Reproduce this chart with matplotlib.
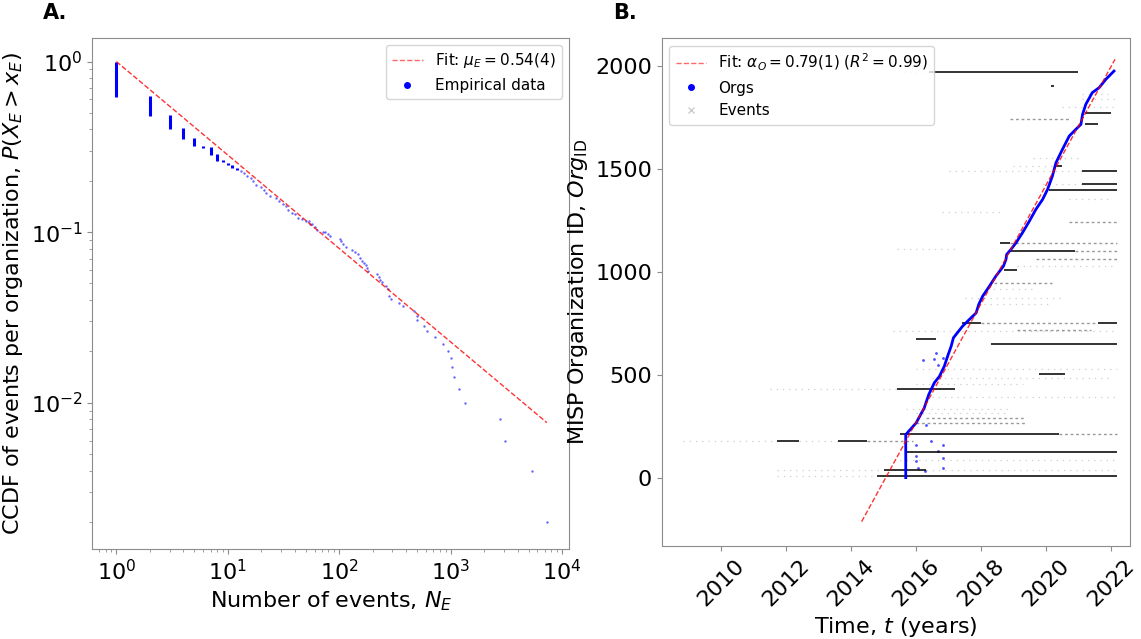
import matplotlib
matplotlib.use("Agg")
import matplotlib.pyplot as plt
from matplotlib.lines import Line2D
import numpy as np

# ---- panel A: CCDF of events per organization ----
# tied values: at each N the points span from ccdf_hi down to ccdf_lo
tie_n = [1, 2, 3, 4, 5, 6, 7, 8, 9, 10, 11, 12]
tie_hi = [1.0, 0.626, 0.484, 0.408, 0.357, 0.322, 0.315, 0.288, 0.266, 0.255, 0.249, 0.238]
tie_lo = [0.623, 0.478, 0.40, 0.352, 0.318, 0.31, 0.284, 0.262, 0.257, 0.246, 0.238, 0.231]

tail_n = [13, 14, 15, 16, 17, 18, 20, 21, 22, 24, 27, 29, 31, 33, 35, 38, 40, 43, 46,
          50, 53, 55, 57, 60, 63, 72, 75, 80, 83, 101, 104, 109, 114, 130, 139, 147,
          154, 160, 167, 175, 179, 181, 217, 228, 230, 244, 264, 273, 281, 291, 345,
          372, 464, 497, 497, 578, 611, 716, 857, 950, 1005, 1026, 1075, 1191, 1349,
          2780, 3040, 5350, 7290]
tail_p = [0.227, 0.222, 0.214, 0.208, 0.199, 0.190, 0.184, 0.177, 0.170, 0.162, 0.159,
          0.152, 0.147, 0.142, 0.135, 0.130, 0.127, 0.121, 0.119, 0.117, 0.116, 0.112,
          0.111, 0.107, 0.103, 0.0998, 0.100, 0.0976, 0.0944, 0.0916, 0.0883, 0.0853,
          0.0819, 0.0789, 0.0765, 0.0748, 0.0706, 0.068, 0.066, 0.0639, 0.0616, 0.0589,
          0.0571, 0.0546, 0.0527, 0.0508, 0.0486, 0.0466, 0.0424, 0.0406, 0.0384,
          0.0367, 0.0343, 0.0324, 0.0304, 0.0283, 0.0265, 0.0243, 0.0222, 0.0202,
          0.0182, 0.0161, 0.0141, 0.0121, 0.010, 0.008, 0.006, 0.004, 0.002]

fit_a_n = [1, 7290]
fit_a_slope = 0.548

# ---- panel B: organization IDs over time ----
org_t = [2015.68, 2015.68, 2015.68, 2016.0, 2016.25, 2016.39, 2016.56, 2016.72, 2016.87,
         2016.97, 2017.08, 2017.15, 2017.43, 2017.64, 2017.85, 2017.93, 2018.05,
         2018.26, 2018.46, 2018.69, 2018.77, 2018.79, 2018.92, 2019.08, 2019.28,
         2019.49, 2019.69, 2019.9, 2020.05, 2020.2, 2020.31, 2020.51, 2020.72,
         2020.92, 2021.08, 2021.13, 2021.23, 2021.43, 2021.64, 2021.85, 2022.1]
org_id = [0, 6, 209, 266, 339, 404, 461, 493, 542, 590, 639, 680, 736, 769, 801, 842,
          882, 931, 980, 1028, 1061, 1085, 1109, 1142, 1191, 1247, 1304, 1353, 1401,
          1466, 1531, 1596, 1661, 1693, 1718, 1766, 1815, 1872, 1896, 1937, 1977]

# organizations registered away from the main curve
stray_t = [2016.0, 2016.0, 2016.0, 2016.05, 2016.46, 2016.67, 2016.82, 2016.82, 2016.82,
           2016.26, 2016.31, 2016.2, 2016.56, 2016.66, 2016.82, 2016.62]
stray_id = [161, 104, 80, 47, 177, 128, 161, 96, 47, 31, 258, 571, 578, 550, 582, 607]

fit_b_t = [2014.32, 2022.13]
fit_b_id = [-214, 2034]

# event streaks: org id, first and last event time, density (2 dense, 1 medium, 0 sparse)
ev_id = [1970, 1970, 1904, 1864, 1839, 1800, 1771, 1742, 1718, 1556, 1515, 1515, 1490,
         1490, 1426, 1426, 1401, 1353, 1293, 1242, 1142, 1142, 1110, 1101, 1101, 1064,
         1028, 1012, 947, 918, 874, 842, 753, 753, 753, 720, 712, 672, 652, 526, 506,
         485, 453, 432, 432, 390, 334, 315, 290, 266, 214, 214, 177, 177, 177, 177, 177,
         125, 88, 36, 36, 36, 6, 6]
ev_t0 = [2015.6, 2016.4, 2020.15, 2021.1, 2021.1, 2020.5, 2021.2, 2018.9, 2021.2, 2019.6,
         2019.0, 2020.3, 2017.0, 2021.1, 2019.9, 2021.1, 2020.1, 2020.7, 2016.8, 2020.7,
         2018.6, 2018.9, 2015.4, 2018.9, 2020.9, 2019.7, 2019.1, 2018.7, 2018.4, 2018.2,
         2017.5, 2018.1, 2017.4, 2018.0, 2021.6, 2019.1, 2015.3, 2016.0, 2018.3, 2016.0,
         2019.8, 2016.5, 2016.0, 2011.5, 2015.4, 2016.5, 2015.7, 2016.0, 2016.3, 2016.0,
         2015.5, 2020.4, 2008.8, 2011.7, 2012.4, 2013.6, 2014.5, 2015.7, 2015.5, 2011.7,
         2015.0, 2016.3, 2011.7, 2014.8]
ev_t1 = [2016.4, 2021.0, 2020.25, 2021.9, 2022.2, 2022.1, 2022.0, 2020.7, 2021.6, 2021.1,
         2020.3, 2020.5, 2021.1, 2022.2, 2021.1, 2022.2, 2022.2, 2022.0, 2018.7, 2022.2,
         2018.9, 2022.2, 2017.3, 2020.9, 2022.2, 2022.2, 2022.2, 2019.1, 2020.2, 2019.7,
         2020.5, 2020.2, 2018.0, 2021.6, 2022.2, 2021.4, 2022.2, 2016.6, 2022.2, 2022.2,
         2020.6, 2022.0, 2019.3, 2015.4, 2017.2, 2022.2, 2018.9, 2018.9, 2019.4, 2019.4,
         2020.4, 2022.2, 2011.7, 2012.4, 2013.6, 2014.5, 2015.9, 2022.2, 2022.2, 2015.0,
         2016.3, 2022.2, 2014.8, 2022.2]
ev_kind = [0, 2, 2, 0, 0, 0, 2, 1, 2, 0, 0, 2, 0, 2, 0, 2, 2, 0, 0, 1, 2, 1, 0, 2, 1, 1,
           0, 2, 1, 0, 0, 0, 2, 1, 2, 1, 0, 2, 2, 0, 2, 0, 0, 0, 2, 0, 0, 0, 1, 1, 2, 1,
           0, 2, 0, 2, 1, 2, 0, 0, 2, 0, 0, 2]

fig = plt.figure(figsize=(11.41, 6.39), dpi=100)
ax1 = fig.add_axes([0.081, 0.141, 0.418, 0.800])
ax2 = fig.add_axes([0.580, 0.146, 0.410, 0.794])

# panel A
ax1.vlines(tie_n, tie_lo, tie_hi, color='blue', lw=2.2)
ax1.scatter(tail_n, tail_p, s=3, color='blue', alpha=0.6, lw=0)
fit_n = np.array(fit_a_n, dtype=float)
ax1.plot(fit_n, fit_n ** -fit_a_slope, color='red', ls='--', lw=1, alpha=0.8)
ax1.set_xscale('log')
ax1.set_yscale('log')
ax1.set_xlim(0.61, 11600)
ax1.set_ylim(0.00139, 1.38)
ax1.set_xlabel('Number of events, $N_E$', fontsize=16)
ax1.set_ylabel('CCDF of events per organization, $P(X_E > x_E)$', fontsize=16)
h1 = [Line2D([], [], color='red', ls='--', lw=1, alpha=0.6),
      Line2D([], [], color='blue', marker='o', ls='', markersize=4)]
ax1.legend(h1, [r'Fit: $\mu_E = 0.54(4)$', 'Empirical data'], loc='upper right',
           fontsize=11)

# panel B
style = {2: dict(color='k', lw=1.4, alpha=0.8, ls='-'),
         1: dict(color='k', lw=1.0, alpha=0.4, ls=(0, (2, 2))),
         0: dict(color='k', lw=0.9, alpha=0.2, ls=(0, (1, 4)))}
for i, t0, t1, k in zip(ev_id, ev_t0, ev_t1, ev_kind):
    ax2.hlines(i, t0, t1, **style[k])
ax2.plot(org_t, org_id, color='blue', lw=2)
ax2.scatter(stray_t, stray_id, s=4, color='blue', alpha=0.7, lw=0)
ax2.plot(fit_b_t, fit_b_id, color='red', ls='--', lw=1, alpha=0.8)
ax2.set_xlim(2008.16, 2022.58)
ax2.set_ylim(-331, 2136)
ax2.set_xticks(range(2010, 2023, 2))
ax2.set_yticks([0, 500, 1000, 1500, 2000])
ax2.tick_params(axis='x', labelrotation=45)
ax2.set_xlabel('Time, $t$ (years)', fontsize=16)
ax2.set_ylabel(r'MISP Organization ID, $Org_{\rm ID}$', fontsize=16)
h2 = [Line2D([], [], color='red', ls='--', lw=1, alpha=0.6),
      Line2D([], [], color='blue', marker='o', ls='', markersize=4),
      Line2D([], [], color='0.8', marker='x', ls='', markersize=4)]
ax2.legend(h2, [r'Fit: $\alpha_O = 0.79(1)$ $(R^2 = 0.99)$', 'Orgs', 'Events'],
           loc='upper left', fontsize=11)

for ax in (ax1, ax2):
    for sp in ax.spines.values():
        sp.set_color('0.55')
    ax.tick_params(which='both', color='0.55', labelsize=16)

fig.text(0.038, 0.995, 'A.', fontsize=15, fontweight='bold', va='top')
fig.text(0.537, 0.995, 'B.', fontsize=15, fontweight='bold', va='top')

fig.savefig('out.png', dpi=100)
